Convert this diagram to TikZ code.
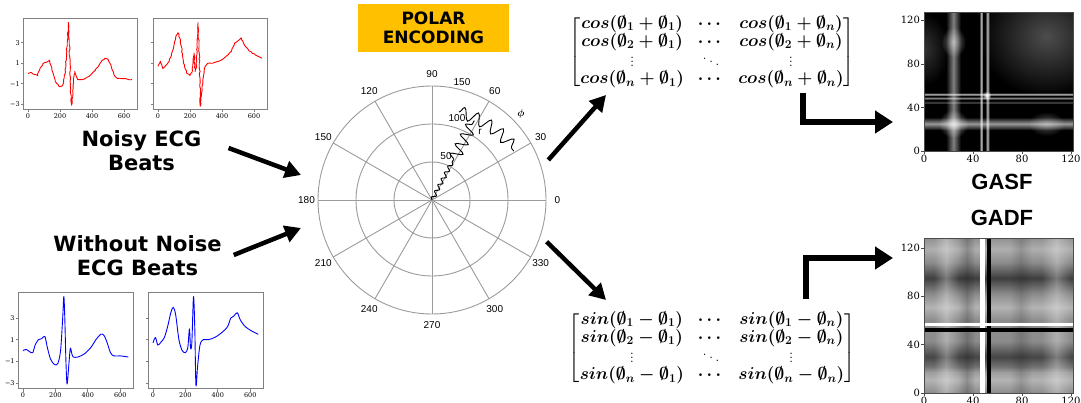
\documentclass[tikz,border=0pt]{standalone}
\usepackage{amsmath,amssymb}
\usepackage{fontspec}
\usepackage{tikz}
\usetikzlibrary{arrows.meta, positioning, calc, decorations.pathmorphing, fadings}
\newfontfamily\headfont{DejaVu Sans}
\newfontfamily\arialfont{Liberation Sans}
\newfontfamily\tickfont{DejaVu Serif}
\definecolor{ecgred}{RGB}{255,0,0}
\definecolor{ecgblue}{RGB}{0,0,255}
\definecolor{framegray}{RGB}{128,128,128}
\definecolor{gridgray}{RGB}{155,155,155}
\definecolor{encodeorange}{RGB}{255,192,0}
\tikzfading[name=vband, left color=transparent!100, right color=transparent!100, middle color=transparent!0]
\tikzfading[name=hband, top color=transparent!100, bottom color=transparent!100, middle color=transparent!0]
\tikzfading[name=blob, inner color=transparent!0, outer color=transparent!100]
\tikzset{
  beatlabel/.style={
    align=center, inner sep=0pt, text=black,
    font=\headfont\fontsize{21}{24}\selectfont\bfseries
  },
  ecgframe/.style={draw=framegray, line width=0.8pt},
  ecgtick/.style={font=\tickfont\fontsize{6.5}{7}\selectfont, inner sep=1.2pt},
  imgtick/.style={font=\tickfont\fontsize{10}{11}\selectfont, inner sep=0.8pt},
  ecgline/.style={line width=0.9pt, line join=round},
  jitter/.style={decorate, decoration={random steps, segment length=2pt, amplitude=0.5pt}},
  polarline/.style={draw=gridgray, line width=0.9pt},
  polarlab/.style={font=\arialfont\fontsize{10}{10}\selectfont, inner sep=0pt},
  encodebox/.style={
    rectangle, fill=encodeorange, minimum width=151pt, minimum height=48pt,
    align=center, font=\headfont\fontsize{17}{19}\selectfont\bfseries
  },
  matbox/.style={font=\fontsize{16.5}{16}\selectfont\boldmath, inner sep=0pt},
  imglab/.style={font=\arialfont\fontsize{22}{22}\selectfont\bfseries},
  signal/.style={line width=0.9pt, decorate},
  bigarrow/.style={-{Triangle[length=16pt, width=17pt]}, line width=4.5pt},
  elbowarrow/.style={-{Triangle[length=18pt, width=22pt]}, line width=6pt}
}
% axes of one ECG beat, #1 name prefix, #2 = 1 with y labels
\newcommand{\ecgaxes}[2]{%
  \draw[ecgframe] (-31,-3.5) rectangle (681,5.4);
  \foreach \v in {0,200,400,600} {
    \draw[ecgframe] (\v,-3.5) -- ++(0,-0.3);
    \node[ecgtick, below] (#1x\v) at (\v,-3.8) {\v};
  }
  \foreach \v/\t in {3/3,1/1,-1/−1,-3/−3} {
    \draw[ecgframe] (-31,\v) -- ++(-12,0);
    \ifnum#2=1 \node[ecgtick, left] (#1y\v) at (-43,\v) {\t};\fi
  }
}
% axes of one image, #1 name prefix
\newcommand{\imgaxes}[1]{%
  \draw[draw=black!70, line width=0.8pt] (0,0) rectangle (121.6,127.5);
  \foreach \v in {0,40,80,120} {
    \draw[black!70] (\v,0) -- ++(0,-2.5);
    \node[imgtick, below] (#1x\v) at (\v,-2.5) {\v};
    \draw[black!70] (0,\v) -- ++(-2.5,0);
    \node[imgtick, left] (#1y\v) at (-2.5,\v) {\v};
  }
}
\newcommand{\beatone}[1]{%
  \draw[#1] plot coordinates {(0,0) (20,0.1) (40,-0.1)
    (60,-0.2) (75,0.5) (95,1.0) (115,1.1) (135,1.3) (150,0.3) (170,-0.8)
    (195,-1.3) (215,-1.2) (232,0) (245,3) (252,5) (258,3) (265,-1) (272,-3.1)
    (282,-1.5) (292,0.2) (300,-0.2) (310,-0.6) (340,-0.6) (380,-0.3) (420,0.3)
    (450,1.0) (480,1.5) (500,1.4) (520,0.7) (540,-0.2) (560,-0.5) (600,-0.5)
    (650,-0.6)};}
\newcommand{\beattwo}[1]{%
  \draw[#1] plot coordinates {(0,0.7) (15,1.2) (30,0.5)
    (50,0.8) (70,1.2) (90,2.2) (110,3.5) (125,4.0) (140,3.3) (160,1.0)
    (180,0.0) (200,-0.2) (215,0.3) (225,2.0) (232,0.2) (240,0.8) (250,5)
    (258,2) (265,-3.2) (275,-1.5) (290,0.5) (310,1.0) (340,1.0) (380,1.2)
    (420,1.6) (460,2.2) (480,3.0) (500,3.2) (520,3.5) (540,2.8) (570,2.2)
    (610,1.8) (650,1.5)};}

\begin{document}
\begin{tikzpicture}[x=1pt, y=1pt]
  \useasboundingbox (0,0) rectangle (1081,402);

  % ECG beats
  \begin{scope}[shift={(28,328.5)}, x=0.16pt, y=10.2pt]
    \ecgaxes{na}{1}
    \beatone{ecgline, ecgred, jitter}
  \end{scope}
  \begin{scope}[shift={(158,328.5)}, x=0.16pt, y=10.2pt]
    \ecgaxes{nb}{0}
    \beattwo{ecgline, ecgred, jitter}
  \end{scope}
  \begin{scope}[shift={(23,51.5)}, x=0.162pt, y=10.8pt]
    \ecgaxes{ca}{1}
    \beatone{ecgline, ecgblue, smooth, tension=0.5}
  \end{scope}
  \begin{scope}[shift={(153,51.5)}, x=0.162pt, y=10.8pt]
    \ecgaxes{cb}{0}
    \beattwo{ecgline, ecgblue, smooth, tension=0.5}
  \end{scope}

  \node[beatlabel] (noisy) at (141.5,251) {Noisy ECG\\Beats};
  \node[beatlabel] (clean) at (137.5,146) {Without Noise\\ECG Beats};

  % polar plot
  \node[encodebox] (encode) at (433.5,374) {POLAR\\ENCODING};
  \node[circle, polarline, minimum size=228pt, inner sep=0pt] (polar) at (432,202) {};
  \begin{scope}[shift={(polar.center)}]
    \foreach \r in {38,76} \draw[polarline] (0,0) circle[radius=\r];
    \foreach \a in {0,30,...,150} \draw[polarline] (\a:114) -- (\a+180:114);
    \foreach \a in {0,30,...,330} \node[polarlab] (pl\a) at (\a:125.5) {\a};
    \node[polarlab] (rl150) at (30,118) {150};
    \node[polarlab] (rl100) at (25,82) {100};
    \node[polarlab] (rl50) at (14,44) {50};
    \node[polarlab] (rlr) at (48,68) {r};
    \node[polarlab] (rlphi) at (89,86) {$\boldsymbol{\phi}$};
    \draw[signal, decoration={snake, amplitude=2pt, segment length=7pt}] (0,0) -- (62:46);
    \draw[signal, decoration={snake, amplitude=6pt, segment length=11pt}] (62:46) -- (62:90);
    \draw[signal, decoration={snake, amplitude=6pt, segment length=14pt}]
      (73:92) arc[start angle=73, end angle=36, radius=106];
  \end{scope}

  % matrices
  \node[matbox] (gasfmat) at (712,350) {\setlength\arraycolsep{7pt}$\begin{bmatrix}
    cos(\emptyset_1+\emptyset_1) & \cdots & cos(\emptyset_1+\emptyset_n)\\
    cos(\emptyset_2+\emptyset_1) & \cdots & cos(\emptyset_2+\emptyset_n)\\
    \vdots & \ddots & \vdots\\
    cos(\emptyset_n+\emptyset_1) & \cdots & cos(\emptyset_n+\emptyset_n)
  \end{bmatrix}$};
  \node[matbox] (gadfmat) at (712,54) {\setlength\arraycolsep{7pt}$\begin{bmatrix}
    sin(\emptyset_1-\emptyset_1) & \cdots & sin(\emptyset_1-\emptyset_n)\\
    sin(\emptyset_2-\emptyset_1) & \cdots & sin(\emptyset_2-\emptyset_n)\\
    \vdots & \ddots & \vdots\\
    sin(\emptyset_n-\emptyset_1) & \cdots & sin(\emptyset_n-\emptyset_n)
  \end{bmatrix}$};

  % GASF image
  \begin{scope}[shift={(924,251)}, x=1.225pt, y=1.09pt]
    \begin{scope}
      \clip (0,0) rectangle (121.6,127.5);
      \fill[black] (0,0) rectangle (121.6,127.5);
      \fill[white, fill opacity=.3, path fading=blob] (45,50) rectangle (155,160);
      \fill[white, fill opacity=.2, path fading=blob] (-20,60) rectangle (20,127.5);
      \fill[white, fill opacity=.5, path fading=vband] (18,0) rectangle (30,127.5);
      \fill[white, fill opacity=.5, path fading=blob] (14,86) rectangle (34,114);
      \fill[white, fill opacity=.6, path fading=hband] (0,19) rectangle (121.6,31);
      \fill[white, fill opacity=.6, path fading=blob] (12,12) rectangle (36,38);
      \fill[white, fill opacity=.35, path fading=blob] (85,14) rectangle (115,36);
      \fill[white, fill opacity=.75, path fading=vband] (45,0) rectangle (48.5,127.5);
      \fill[white, fill opacity=.75, path fading=vband] (50,0) rectangle (53.5,127.5);
      \fill[white, fill opacity=.75, path fading=hband] (0,50.5) rectangle (121.6,53.5);
      \fill[white, fill opacity=.55, path fading=hband] (0,47) rectangle (121.6,50);
      \fill[white, fill opacity=.3, path fading=hband] (0,43) rectangle (121.6,46);
      \fill[white, path fading=blob] (47,47) rectangle (55,55);
    \end{scope}
    \imgaxes{sf}
  \end{scope}
  \node[imglab] (gasflab) at (1002,220) {GASF};

  % GADF image
  \node[imglab] (gadflab) at (1002,184) {GADF};
  \begin{scope}[shift={(924,9)}, x=1.225pt, y=1.21pt]
    \begin{scope}
      \clip (0,0) rectangle (121.6,127.5);
      \fill[black!45] (0,0) rectangle (121.6,127.5);
      \fill[black, fill opacity=.55, path fading=hband] (0,82) rectangle (121.6,108);
      \fill[black, fill opacity=.5, path fading=hband] (0,17) rectangle (121.6,43);
      \fill[white, fill opacity=.35, path fading=hband] (0,60) rectangle (121.6,82);
      \fill[white, fill opacity=.35, path fading=hband] (0,0) rectangle (121.6,22);
      \fill[white, fill opacity=.3, path fading=hband] (0,108) rectangle (121.6,130);
      \fill[white, fill opacity=.3, path fading=vband] (8,0) rectangle (28,127.5);
      \fill[white, fill opacity=.3, path fading=vband] (96,0) rectangle (120,127.5);
      \fill[black, fill opacity=.2, path fading=vband] (28,0) rectangle (42,127.5);
      \fill[black, fill opacity=.15, path fading=vband] (70,0) rectangle (88,127.5);
      \fill[white] (46,0) rectangle (49.5,127.5);
      \fill[black] (51.5,0) rectangle (55,127.5);
      \fill[white] (0,55) rectangle (121.6,58);
      \fill[black] (0,50.5) rectangle (121.6,53.5);
    \end{scope}
    \imgaxes{df}
  \end{scope}

  % arrows
  \coordinate (noisytip) at (301,227);
  \coordinate (cleantip) at (301,174);
  \coordinate (gasfin) at (606,307);
  \coordinate (gadfin) at (606,102);
  \coordinate (gasftip) at (893,280);
  \coordinate (gadftip) at (893,144);
  \draw[bigarrow] ([shift={(27,3)}]noisy.east) -- (noisytip);
  \draw[bigarrow] ([shift={(12,1)}]clean.east) -- (cleantip);
  \draw[bigarrow] ($(polar.center)+(19:123)$) -- (gasfin);
  \draw[bigarrow] ($(polar.center)+(-20:122)$) -- (gadfin);
  \draw[elbowarrow] ([xshift=-52pt, yshift=-4pt]gasfmat.south east) |- (gasftip);
  \draw[elbowarrow] ([xshift=-49pt, yshift=12pt]gadfmat.north east) |- (gadftip);
\end{tikzpicture}
\end{document}
